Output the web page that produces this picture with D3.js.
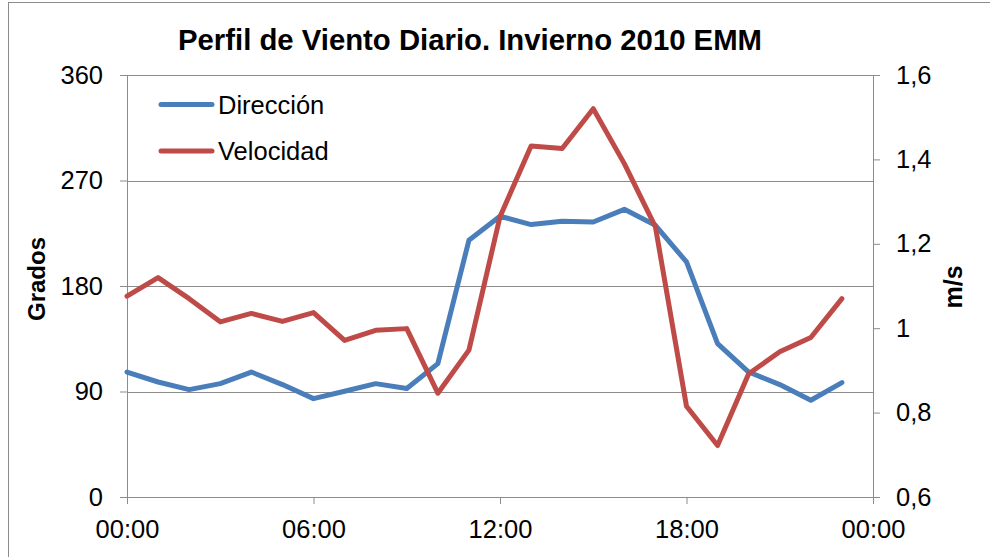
<!DOCTYPE html>
<html lang="es">
<head>
    <meta charset="utf-8" />
    <title>Perfil de Viento Diario. Invierno 2010 EMM</title>
    <style type="text/css">
        body { margin: 0; background: #fff; }
        svg { font-family: Arial, "Liberation Sans", sans-serif; }
        .line { fill: none; stroke-width: 5px; stroke-linejoin: round; stroke-linecap: round; }
        .grid line { stroke: #8c8c8c; stroke-width: 1px; }
        .axis path, .axis line { stroke: #8c8c8c; stroke-width: 1px; }
        .axis text { fill: #000; font-size: 25.5px; }
    </style>
    <script type="text/javascript" src="https://cdn.jsdelivr.net/npm/d3@7"></script>
</head>
<body>
    <div id="chart"></div>
    <script type="text/javascript">
        // hourly values, 00:00 .. 23:00
        const hours = d3.range(0, 24);
        const direccion = [106.6, 98.1, 91.6, 96.7, 106.6, 95.9, 83.9, 90.2, 96.7, 92.5, 113.8, 219,
            239.5, 232.4, 235.2, 234.6, 245.4, 231.8, 200.5, 130.9, 106.6, 95.9, 82.5, 97.6];
        const velocidad = [1.076, 1.12, 1.07, 1.015, 1.035, 1.016, 1.037, 0.971, 0.995, 0.999, 0.846, 0.948,
            1.264, 1.432, 1.426, 1.52, 1.39, 1.24, 0.815, 0.722, 0.892, 0.944, 0.978, 1.07];
        const gradosTicks = [0, 90, 180, 270, 360];
        const msTicks = [0.6, 0.8, 1, 1.2, 1.4, 1.6];
        const seriesNames = ['Dirección', 'Velocidad'];
        const colors = ['#4a7ebb', '#be4b48'];

        const W = 990, H = 557;
        const margin = {top: 75, right: 117, bottom: 60, left: 127},
            width = W - margin.left - margin.right,
            height = H - margin.top - margin.bottom;

        const es = d3.formatLocale({decimal: ',', thousands: '.', grouping: [3], currency: ['', '€']});
        const fmtMs = es.format('.1~f');
        const fmtHour = d3.timeFormat('%H:%M');

        const day0 = new Date(2010, 0, 1, 0, 0);
        const day1 = new Date(2010, 0, 2, 0, 0);
        const data = hours.map((h, i) => ({
            date: new Date(2010, 0, 1, h, 0),
            dir: direccion[i],
            vel: velocidad[i]
        }));

        const x = d3.scaleTime().domain([day0, day1]).range([0, width]);
        const yL = d3.scaleLinear().domain([0, 360]).range([height, 0]);
        const yR = d3.scaleLinear().domain([0.6, 1.6]).range([height, 0]);

        const root = d3.select('#chart').append('svg')
            .attr('width', W)
            .attr('height', H);

        // outer chart border
        root.append('rect')
            .attr('x', 8.5).attr('y', 2.5)
            .attr('width', W).attr('height', H)
            .attr('fill', 'none')
            .attr('stroke', '#8c8c8c');

        root.append('text')
            .attr('x', 470).attr('y', 50)
            .attr('text-anchor', 'middle')
            .style('font-size', '29.3px')
            .style('font-weight', 'bold')
            .text('Perfil de Viento Diario. Invierno 2010 EMM');

        const svg = root.append('g')
            .attr('transform', 'translate(' + margin.left + ',' + margin.top + ')');

        // horizontal gridlines
        svg.append('g')
            .attr('class', 'grid')
            .selectAll('line')
            .data(gradosTicks.filter(d => d > 0))
            .enter().append('line')
            .attr('x1', 0).attr('x2', width)
            .attr('y1', d => Math.round(yL(d)) + 0.5)
            .attr('y2', d => Math.round(yL(d)) + 0.5);

        svg.append('g')
            .attr('class', 'axis')
            .attr('transform', 'translate(0,' + height + ')')
            .call(d3.axisBottom(x).ticks(d3.timeHour.every(6)).tickFormat(fmtHour).tickSize(7).tickSizeOuter(0).tickPadding(16));

        svg.append('g')
            .attr('class', 'axis')
            .call(d3.axisLeft(yL).tickValues(gradosTicks).tickSize(7).tickSizeOuter(0).tickPadding(17));

        svg.append('g')
            .attr('class', 'axis')
            .attr('transform', 'translate(' + width + ',0)')
            .call(d3.axisRight(yR).tickValues(msTicks).tickFormat(fmtMs).tickSize(7).tickSizeOuter(0).tickPadding(16));

        const lineDir = d3.line().x(d => x(d.date)).y(d => yL(d.dir));
        const lineVel = d3.line().x(d => x(d.date)).y(d => yR(d.vel));

        svg.append('path').datum(data)
            .attr('class', 'line')
            .style('stroke', colors[0])
            .attr('d', lineDir);

        svg.append('path').datum(data)
            .attr('class', 'line')
            .style('stroke', colors[1])
            .attr('d', lineVel);

        // axis titles
        root.append('text')
            .attr('transform', 'translate(45,279) rotate(-90)')
            .attr('text-anchor', 'middle')
            .style('font-size', '24px')
            .style('font-weight', 'bold')
            .text('Grados');

        root.append('text')
            .attr('transform', 'translate(962,287) rotate(-90)')
            .attr('text-anchor', 'middle')
            .style('font-size', '25px')
            .style('font-weight', 'bold')
            .text('m/s');

        // legend
        const legend = root.selectAll('.legend')
            .data(seriesNames)
            .enter().append('g')
            .attr('class', 'legend')
            .attr('transform', (d, i) => 'translate(161,' + (104.5 + i * 46.5) + ')');
        legend.append('line')
            .attr('x1', 0).attr('x2', 51)
            .attr('y1', 0).attr('y2', 0)
            .attr('stroke', (d, i) => colors[i])
            .attr('stroke-width', 5)
            .attr('stroke-linecap', 'round');
        legend.append('text')
            .attr('x', 57).attr('y', 9)
            .style('font-size', '25.5px')
            .text(d => d);
    </script>
</body>
</html>
